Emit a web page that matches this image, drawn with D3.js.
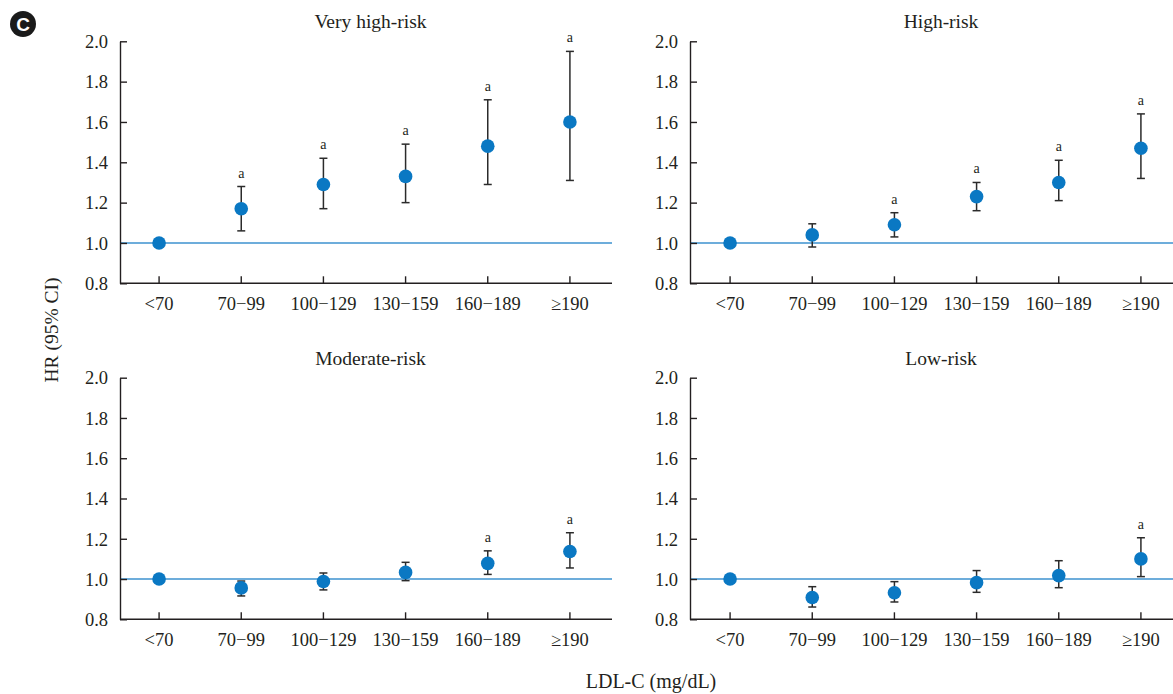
<!DOCTYPE html>
<html>
<head>
<meta charset="utf-8">
<script src="https://cdn.jsdelivr.net/npm/d3@7"></script>
<style>
  body { margin: 0; background: #fff; }
  svg { display: block; }
  text { font-family: "Liberation Serif", "Times New Roman", serif; fill: #231f20; }
</style>
</head>
<body>
<svg id="chart" width="1173" height="694"></svg>
<script>
// LDL-C groups
const categories = ["<70", "70\u221299", "100\u2212129", "130\u2212159", "160\u2212189", "\u2265190"];
const yTicks = [0.8, 1.0, 1.2, 1.4, 1.6, 1.8, 2.0];

const panelTitles = ["Very high-risk", "High-risk", "Moderate-risk", "Low-risk"];

// HR point estimates per panel
const hrVeryHigh = [1.0, 1.17, 1.29, 1.33, 1.48, 1.60];
const hrHigh = [1.0, 1.04, 1.09, 1.23, 1.30, 1.47];
const hrModerate = [1.0, 0.956, 0.988, 1.033, 1.078, 1.137];
const hrLow = [1.0, 0.908, 0.932, 0.982, 1.017, 1.10];

// lower / upper 95% CI (null = reference group)
const loVeryHigh = [null, 1.06, 1.17, 1.20, 1.29, 1.31];
const hiVeryHigh = [null, 1.28, 1.42, 1.49, 1.71, 1.95];
const loHigh = [null, 0.98, 1.03, 1.16, 1.21, 1.32];
const hiHigh = [null, 1.095, 1.15, 1.30, 1.41, 1.64];
const loModerate = [null, 0.916, 0.946, 0.992, 1.023, 1.055];
const hiModerate = [null, 0.99, 1.03, 1.083, 1.14, 1.23];
const loLow = [null, 0.861, 0.886, 0.934, 0.957, 1.012];
const hiLow = [null, 0.962, 0.987, 1.042, 1.091, 1.205];

// significance marker "a"
const sigVeryHigh = [false, true, true, true, true, true];
const sigHigh = [false, false, true, true, true, true];
const sigModerate = [false, false, false, false, true, true];
const sigLow = [false, false, false, false, false, true];

const panels = [
  { title: panelTitles[0], hr: hrVeryHigh, lo: loVeryHigh, hi: hiVeryHigh, sig: sigVeryHigh, col: 0, row: 0 },
  { title: panelTitles[1], hr: hrHigh, lo: loHigh, hi: hiHigh, sig: sigHigh, col: 1, row: 0 },
  { title: panelTitles[2], hr: hrModerate, lo: loModerate, hi: hiModerate, sig: sigModerate, col: 0, row: 1 },
  { title: panelTitles[3], hr: hrLow, lo: loLow, hi: hiLow, sig: sigLow, col: 1, row: 1 }
];

const colLeft = [120, 690];     // y-axis x position
const colRange = [[118, 611], [689, 1182]];
const rowRange = [[283.3, 41.3], [619.3, 377.7]];

const pointColor = "#0a78c3";
const refColor = "#3d92cf";
const barColor = "#2b2b2b";
const serif = "'Liberation Serif', 'Times New Roman', serif";

const svg = d3.select("#chart");

// badge
svg.append("circle").attr("cx", 23).attr("cy", 24).attr("r", 13).attr("fill", "#1a1a1a");
svg.append("text")
  .attr("x", 23).attr("y", 30.5)
  .attr("text-anchor", "middle")
  .style("font-family", "'Liberation Sans', Arial, sans-serif")
  .style("font-weight", "bold")
  .style("font-size", "19px")
  .style("fill", "#fff")
  .text("C");

panels.forEach((p) => {
  const x = d3.scaleBand().domain(categories).range(colRange[p.col]);
  const y = d3.scaleLinear().domain([0.8, 2.0]).range(rowRange[p.row]);
  const x0 = colLeft[p.col];
  const g = svg.append("g");

  // title
  g.append("text")
    .attr("x", (x0 + colRange[p.col][1]) / 2 + 5)
    .attr("y", y(2.0) - 13)
    .attr("text-anchor", "middle")
    .style("font-size", "19.5px")
    .text(p.title);

  // reference line at HR = 1
  g.append("line")
    .attr("x1", x0).attr("x2", colRange[p.col][1] + 1)
    .attr("y1", y(1)).attr("y2", y(1))
    .attr("stroke", refColor).attr("stroke-width", 1.6);

  // x axis
  const xAxis = g.append("g")
    .attr("transform", `translate(0,${y(0.8)})`)
    .call(d3.axisBottom(x).tickSizeInner(-7).tickSizeOuter(0).tickPadding(14));
  xAxis.select(".domain").attr("d", `M${x0},0H${colRange[p.col][1] + 1}`);

  // y axis
  const yAxis = g.append("g")
    .attr("transform", `translate(${x0},0)`)
    .call(d3.axisLeft(y).tickValues(yTicks).tickFormat(d3.format(".1f"))
      .tickSizeInner(-7).tickSizeOuter(0).tickPadding(12));

  [xAxis, yAxis].forEach((ax) => {
    ax.attr("font-family", null).attr("font-size", null);
    ax.selectAll("path, line").attr("stroke", "#231f20").attr("stroke-width", 1.4);
    ax.selectAll("text")
      .style("font-family", serif)
      .style("font-size", "18.5px")
      .attr("fill", "#231f20");
  });
  yAxis.selectAll("text").attr("dy", "0.34em");
  xAxis.selectAll("text").attr("dy", "0.71em");

  const cx = (i) => x(categories[i]) + x.bandwidth() / 2;

  // error bars
  categories.forEach((c, i) => {
    if (p.lo[i] == null) return;
    const eb = g.append("g").attr("stroke", barColor).attr("stroke-width", 1.5);
    eb.append("line").attr("x1", cx(i)).attr("x2", cx(i)).attr("y1", y(p.lo[i])).attr("y2", y(p.hi[i]));
    eb.append("line").attr("x1", cx(i) - 4).attr("x2", cx(i) + 4).attr("y1", y(p.lo[i])).attr("y2", y(p.lo[i]));
    eb.append("line").attr("x1", cx(i) - 4).attr("x2", cx(i) + 4).attr("y1", y(p.hi[i])).attr("y2", y(p.hi[i]));
    if (p.sig[i]) {
      g.append("text")
        .attr("x", cx(i)).attr("y", y(p.hi[i]) - 9)
        .attr("text-anchor", "middle")
        .style("font-size", "14px")
        .text("a");
    }
  });

  // points
  g.append("g").selectAll("circle")
    .data(p.hr)
    .join("circle")
    .attr("cx", (d, i) => cx(i))
    .attr("cy", (d) => y(d))
    .attr("r", 6.8)
    .attr("fill", pointColor);
});

// shared axis titles
svg.append("text")
  .attr("transform", "translate(58,330) rotate(-90)")
  .attr("text-anchor", "middle")
  .style("font-size", "19.5px")
  .text("HR (95% CI)");

svg.append("text")
  .attr("x", 651).attr("y", 688)
  .attr("text-anchor", "middle")
  .style("font-size", "20px")
  .text("LDL-C (mg/dL)");
</script>
</body>
</html>
